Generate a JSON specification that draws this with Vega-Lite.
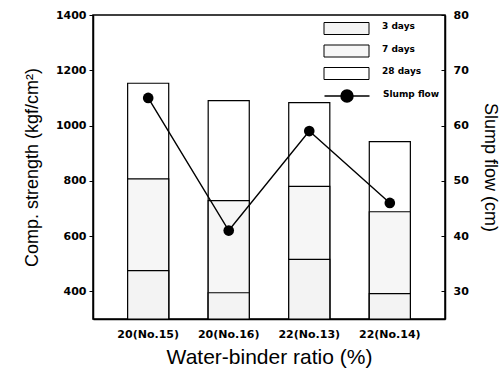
{
  "$schema": "https://vega.github.io/schema/vega-lite/v6.json",
  "width": 352,
  "height": 304,
  "autosize": {"type": "none"},
  "padding": {"left": 93, "top": 15, "right": 58, "bottom": 51},
  "config": {
    "view": {"stroke": "black", "strokeWidth": 1.5},
    "font": "Liberation Sans",
    "axis": {
      "grid": false,
      "domainColor": "black",
      "domainWidth": 1.5,
      "tickColor": "black",
      "labelColor": "black",
      "titleColor": "black",
      "labelFont": "DejaVu Sans",
      "labelFontWeight": "bold",
      "labelFontSize": 11,
      "titleFont": "Liberation Sans",
      "titleFontWeight": "normal",
      "titleFontSize": 18
    }
  },
  "datasets": {
    "strength": [
      {"mix": "20(No.15)", "age": "28 days", "strength": 1153},
      {"mix": "20(No.15)", "age": "7 days", "strength": 807},
      {"mix": "20(No.15)", "age": "3 days", "strength": 475},
      {"mix": "20(No.16)", "age": "28 days", "strength": 1090},
      {"mix": "20(No.16)", "age": "7 days", "strength": 728},
      {"mix": "20(No.16)", "age": "3 days", "strength": 395},
      {"mix": "22(No.13)", "age": "28 days", "strength": 1083},
      {"mix": "22(No.13)", "age": "7 days", "strength": 780},
      {"mix": "22(No.13)", "age": "3 days", "strength": 516},
      {"mix": "22(No.14)", "age": "28 days", "strength": 942},
      {"mix": "22(No.14)", "age": "7 days", "strength": 688},
      {"mix": "22(No.14)", "age": "3 days", "strength": 392}
    ],
    "slump": [
      {"mix": "20(No.15)", "series": "Slump flow", "slump": 65},
      {"mix": "20(No.16)", "series": "Slump flow", "slump": 41},
      {"mix": "22(No.13)", "series": "Slump flow", "slump": 59},
      {"mix": "22(No.14)", "series": "Slump flow", "slump": 46}
    ]
  },
  "layer": [
    {
      "data": {"name": "strength"},
      "mark": {"type": "bar", "stroke": "black", "strokeWidth": 1.2},
      "encoding": {
        "x": {
          "field": "mix",
          "type": "nominal",
          "sort": null,
          "scale": {"paddingInner": 0.49, "paddingOuter": 0.43},
          "axis": {
            "title": "Water-binder ratio (%)",
            "titleFontSize": 21,
            "labelAngle": 0,
            "ticks": false,
            "labelPadding": 9,
            "titlePadding": 7
          }
        },
        "y": {
          "field": "strength",
          "type": "quantitative",
          "scale": {"domain": [300, 1400], "nice": false, "zero": false},
          "axis": {
            "title": "Comp. strength (kgf/cm²)",
            "format": "d",
            "values": [400, 600, 800, 1000, 1200, 1400],
            "tickSize": 4,
            "labelPadding": 3,
            "titlePadding": 14
          }
        },
        "y2": {"datum": 300},
        "fill": {
          "field": "age",
          "type": "nominal",
          "scale": {"domain": ["3 days", "7 days", "28 days"], "range": ["#f3f3f3", "#f6f6f6", "#ffffff"]},
          "legend": {
            "orient": "none",
            "legendX": 247,
            "legendY": 7,
            "title": null,
            "padding": 0,
            "symbolType": "M-3.75,-1H3.75V1H-3.75Z",
            "symbolSize": 144,
            "symbolStrokeColor": "black",
            "symbolStrokeWidth": 1,
            "labelOffset": 29,
            "labelFont": "DejaVu Sans",
            "labelFontWeight": "bold",
            "labelFontSize": 9,
            "labelColor": "black",
            "rowPadding": 5.5,
            "encode": {
              "symbols": {"update": {"stroke": {"value": "black"}, "strokeWidth": {"value": 1}}},
              "labels": {"update": {"dy": {"value": -2.5}}}
            }
          }
        }
      }
    },
    {
      "data": {"name": "slump"},
      "encoding": {
        "x": {"field": "mix", "type": "nominal", "sort": null},
        "y": {
          "field": "slump",
          "type": "quantitative",
          "scale": {"domain": [25, 80], "nice": false, "zero": false},
          "axis": {
            "orient": "right",
            "title": "Slump flow (cm)",
            "values": [30, 40, 50, 60, 70, 80],
            "tickSize": -4,
            "labelPadding": 12,
            "titlePadding": 12
          }
        },
        "color": {
          "field": "series",
          "type": "nominal",
          "scale": {"range": ["black"]},
          "legend": {
            "orient": "none",
            "legendX": 247,
            "legendY": 74,
            "title": null,
            "padding": 0,
            "symbolType": "M-3.75,0H3.75M1,0A1,1 0 1,1 -1,0A1,1 0 1,1 1,0Z",
            "symbolSize": 144,
            "symbolStrokeWidth": 1.5,
            "labelOffset": 29,
            "labelFont": "DejaVu Sans",
            "labelFontWeight": "bold",
            "labelFontSize": 9,
            "labelColor": "black",
            "encode": {
              "symbols": {"update": {"fill": {"value": "black"}, "stroke": {"value": "black"}, "strokeWidth": {"value": 1.5}, "opacity": {"value": 1}}},
              "labels": {"update": {"dy": {"value": -2}}}
            }
          }
        }
      },
      "layer": [
        {"mark": {"type": "line", "strokeWidth": 1.4}},
        {"mark": {"type": "point", "filled": true, "size": 113, "opacity": 1}}
      ]
    }
  ],
  "resolve": {"scale": {"y": "independent"}}
}
